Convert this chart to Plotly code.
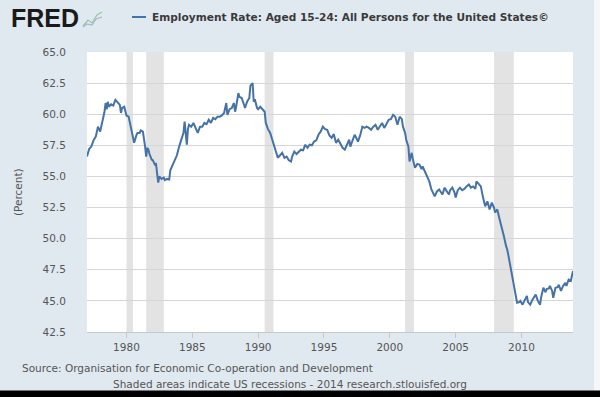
import plotly.graph_objects as go

# ---- data ----
dates = [
 "1977-01","1977-03","1977-05","1977-07","1977-09","1977-11",
 "1978-01","1978-03","1978-05","1978-06","1978-07","1978-08","1978-09","1978-11",
 "1979-01","1979-03","1979-05","1979-07","1979-08","1979-09","1979-11","1979-12",
 "1980-01","1980-03","1980-05","1980-07","1980-08","1980-10","1980-11",
 "1981-01","1981-02","1981-04","1981-05","1981-06","1981-07","1981-08","1981-09","1981-10","1981-12",
 "1982-01","1982-03","1982-04","1982-05","1982-06","1982-07","1982-09","1982-11","1982-12",
 "1983-02","1983-04","1983-05","1983-07","1983-09","1983-11",
 "1984-01","1984-03","1984-05","1984-06","1984-07","1984-08","1984-09","1984-10","1984-12",
 "1985-02","1985-04","1985-06","1985-08","1985-10","1985-12",
 "1986-02","1986-04","1986-06","1986-08","1986-10","1986-12",
 "1987-02","1987-04","1987-06","1987-08","1987-09","1987-11",
 "1988-01","1988-03","1988-04","1988-05","1988-07","1988-08","1988-10","1988-12",
 "1989-01","1989-03","1989-05","1989-06","1989-08","1989-09","1989-10","1989-12",
 "1990-01","1990-03","1990-05","1990-07","1990-08","1990-10","1990-12",
 "1991-02","1991-03","1991-05","1991-07","1991-09","1991-11",
 "1992-01","1992-03","1992-05","1992-07","1992-08","1992-10","1992-12",
 "1993-02","1993-04","1993-06","1993-08","1993-10","1993-12",
 "1994-02","1994-04","1994-06","1994-08","1994-10","1994-12",
 "1995-02","1995-04","1995-06","1995-08","1995-10","1995-12",
 "1996-02","1996-04","1996-06","1996-08","1996-10","1996-12",
 "1997-01","1997-03","1997-05","1997-07","1997-08","1997-10","1997-12",
 "1998-02","1998-04","1998-06","1998-08","1998-10","1998-12",
 "1999-02","1999-04","1999-06","1999-08","1999-10","1999-12",
 "2000-02","2000-04","2000-06","2000-08","2000-10","2000-12",
 "2001-01","2001-03","2001-04","2001-06","2001-07","2001-09","2001-10","2001-12",
 "2002-02","2002-04","2002-06","2002-07","2002-09","2002-11",
 "2003-01","2003-03","2003-05","2003-06","2003-08","2003-10",
 "2004-01","2004-03","2004-05","2004-07","2004-08","2004-10","2004-12",
 "2005-01","2005-03","2005-05","2005-07","2005-09","2005-11",
 "2006-01","2006-03","2006-05","2006-07","2006-08","2006-10","2006-12",
 "2007-02","2007-04","2007-06","2007-08","2007-10","2007-12",
 "2008-01","2008-03","2008-05","2008-06","2008-08","2008-09","2008-11","2008-12",
 "2009-01","2009-03","2009-05","2009-06","2009-08","2009-09","2009-11","2009-12",
 "2010-02","2010-04","2010-06","2010-07","2010-09","2010-11","2010-12",
 "2011-02","2011-04","2011-06","2011-07","2011-09","2011-11","2011-12",
 "2012-02","2012-03","2012-05","2012-06","2012-08","2012-10","2012-11",
 "2013-01","2013-03","2013-05","2013-06","2013-08","2013-10","2013-11","2013-12",
]
values = [
 56.6,57.2,57.4,57.9,58.2,59.0,
 58.6,59.3,60.2,60.9,60.4,61.0,60.6,60.8,
 60.7,61.15,60.9,60.75,60.1,60.5,60.6,60.2,
 59.9,59.8,59.0,58.1,57.7,58.3,58.5,
 58.5,58.7,58.6,58.1,57.4,56.6,57.3,57.15,56.8,56.35,
 56.3,55.95,56.0,55.2,54.5,55.0,54.8,54.9,54.7,
 54.8,54.75,55.5,55.9,56.35,56.7,
 57.4,58.0,58.5,59.4,58.6,57.55,58.8,59.15,59.0,
 59.3,58.9,58.5,59.0,59.0,59.3,
 59.2,59.55,59.3,59.7,59.6,59.8,
 59.8,59.9,60.1,60.9,59.95,60.4,
 60.5,60.9,60.2,60.6,61.7,61.4,61.3,60.8,
 60.5,61.0,61.3,62.3,62.5,61.0,61.2,60.5,
 60.4,60.6,60.35,60.2,59.3,58.8,58.5,
 57.9,57.55,57.0,56.5,56.7,56.9,
 56.5,56.6,56.3,56.2,56.6,57.0,56.8,
 57.0,57.15,57.1,57.55,57.3,57.55,
 57.5,57.8,57.9,58.35,58.6,59.0,
 58.8,58.75,58.3,58.1,58.4,57.7,
 57.95,57.6,57.3,57.15,57.6,57.95,
 57.4,57.9,58.35,58.0,57.8,58.3,59.0,
 58.9,59.0,58.9,58.75,59.0,59.15,
 58.75,59.0,59.3,58.9,59.2,59.55,
 59.6,59.95,59.8,59.15,59.8,59.6,
 59.0,58.5,57.95,57.4,56.2,56.9,56.4,55.7,
 56.0,55.95,55.6,55.8,55.4,55.0,
 54.6,53.95,53.6,53.4,53.8,53.95,
 53.55,54.1,53.8,53.55,53.9,54.1,53.7,
 53.3,53.9,54.1,53.9,54.0,54.2,
 54.35,54.1,54.2,54.0,54.6,54.4,54.2,
 53.3,52.6,53.0,52.35,52.9,52.5,
 52.1,52.35,51.6,51.3,50.6,50.2,49.4,49.15,
 48.7,47.8,47.0,46.45,45.5,44.85,44.9,45.0,
 44.7,45.0,45.4,44.9,44.7,45.1,45.25,
 45.5,45.0,44.7,45.3,46.05,45.7,45.95,
 46.0,46.2,45.8,45.25,46.05,46.1,46.3,
 45.8,46.2,46.45,46.2,46.7,46.6,47.0,47.4,
]
recession_starts = ["1980-01-01","1981-07-01","1990-07-01","2001-03-01","2007-12-01"]
recession_ends   = ["1980-07-01","1982-11-01","1991-03-01","2001-11-01","2009-06-01"]
y_ticks = [42.5,45.0,47.5,50.0,52.5,55.0,57.5,60.0,62.5,65.0]
x_ticks = ["1980","1985","1990","1995","2000","2005","2010"]

series_name = "Employment Rate: Aged 15-24: All Persons for the United States©"
source_text = "Source: Organisation for Economic Co-operation and Development"
note_text = "Shaded areas indicate US recessions - 2014 research.stlouisfed.org"

# ---- layout geometry (pixels) ----
W, H = 600, 397
L, R, T, B = 87, 573, 52, 332
def px(x): return (x - L) / (R - L)
def py(y): return (B - y) / (B - T)

BG = "#E1E9F0"
LINE = "#4572A7"
FONT = "DejaVu Sans"

fig = go.Figure()
fig.add_trace(go.Scatter(x=[d + "-01" for d in dates], y=values, mode="lines",
                         line=dict(color=LINE, width=2), name=series_name,
                         showlegend=False, hoverinfo="x+y"))

shapes = []
for s, e in zip(recession_starts, recession_ends):
    shapes.append(dict(type="rect", xref="x", yref="paper", x0=s, x1=e, y0=0, y1=1,
                       fillcolor="#E3E3E3", line=dict(width=0), layer="below"))
# legend line sample
shapes.append(dict(type="line", xref="paper", yref="paper", x0=px(132), x1=px(146),
                   y0=py(17), y1=py(17), line=dict(color=LINE, width=2)))
# small chart icon next to logo
shapes.append(dict(type="path", xref="paper", yref="paper",
                   path="M %f %f L %f %f L %f %f L %f %f L %f %f" % (
                       px(83), py(26), px(88), py(20), px(92), py(23), px(97), py(15), px(102), py(12)),
                   line=dict(color="#9CC3A0", width=1.2)))
shapes.append(dict(type="path", xref="paper", yref="paper",
                   path="M %f %f L %f %f L %f %f L %f %f L %f %f" % (
                       px(83), py(27), px(87), py(24), px(92), py(25), px(96), py(19), px(102), py(17)),
                   line=dict(color="#9FB6D0", width=1.2)))
# right light strip, bottom black border
shapes.append(dict(type="rect", xref="paper", yref="paper", x0=px(594), x1=px(600),
                   y0=py(397), y1=py(0), fillcolor="#F4F6F8", line=dict(width=0), layer="above"))
shapes.append(dict(type="rect", xref="paper", yref="paper", x0=px(0), x1=px(600),
                   y0=py(397), y1=py(390.5), fillcolor="black", line=dict(width=0), layer="above"))

annotations = [
    dict(text="<b>FRED</b>", x=px(9), y=py(18.5), xref="paper", yref="paper",
         xanchor="left", yanchor="middle", showarrow=False,
         font=dict(family="Liberation Sans", size=25, color="#1A1A1A")),
    dict(text="<b>" + series_name + "</b>", x=px(150), y=py(17), xref="paper", yref="paper",
         xanchor="left", yanchor="middle", showarrow=False,
         font=dict(family=FONT, size=10.6, color="#3A3A3A")),
    dict(text="(Percent)", x=px(18), y=py(192), xref="paper", yref="paper",
         xanchor="center", yanchor="middle", textangle=-90, showarrow=False,
         font=dict(family=FONT, size=10.5, color="#555555")),
    dict(text=source_text, x=px(20), y=py(367.5), xref="paper", yref="paper",
         xanchor="left", yanchor="middle", showarrow=False,
         font=dict(family=FONT, size=10.5, color="#555555")),
    dict(text=note_text, x=px(111), y=py(384), xref="paper", yref="paper",
         xanchor="left", yanchor="middle", showarrow=False,
         font=dict(family=FONT, size=10.5, color="#555555")),
]

fig.update_layout(
    width=W, height=H,
    margin=dict(l=L, r=W - R, t=T, b=H - B, pad=0),
    paper_bgcolor=BG, plot_bgcolor="white",
    shapes=shapes, annotations=annotations, showlegend=False,
    font=dict(family=FONT, size=10.5, color="#555555"),
)
fig.update_xaxes(
    range=["1977-01-01", "2013-12-01"],
    tickvals=[t + "-01-01" for t in x_ticks], ticktext=x_ticks,
    showgrid=False, zeroline=False,
    showline=True, linecolor="#C8C8C8", linewidth=1,
    ticks="outside", ticklen=5, tickcolor="#C8C8C8",
    tickfont=dict(family=FONT, size=10.5, color="#555555"),
)
fig.update_yaxes(
    range=[42.5, 65.0], tickvals=y_ticks, ticktext=["%.1f" % v for v in y_ticks],
    showgrid=True, gridcolor="#D6D6D6", gridwidth=1, zeroline=False, showline=False,
    ticks="outside", ticklen=18, tickcolor="rgba(0,0,0,0)",
    tickfont=dict(family=FONT, size=10.5, color="#555555"),
)

fig.write_html("out.html", config={"displayModeBar": False},
               post_script="document.body.style.margin='0';document.body.style.overflow='hidden';")
